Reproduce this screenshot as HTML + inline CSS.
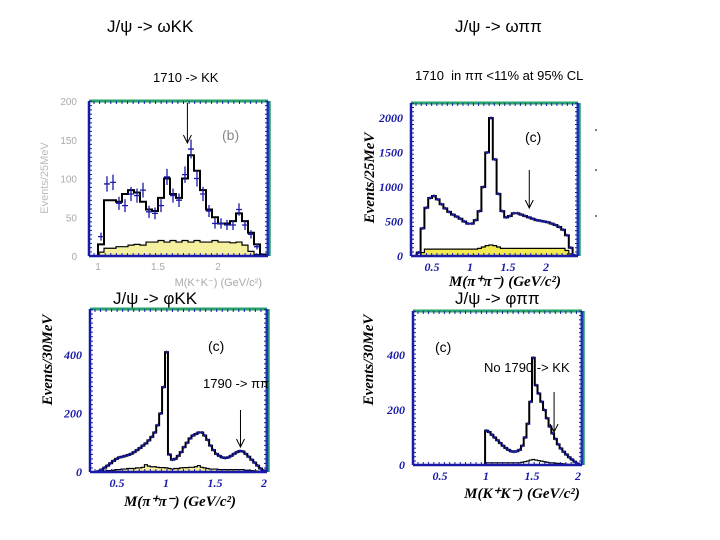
<!DOCTYPE html>
<html><head><meta charset="utf-8">
<style>
body{margin:0;background:#fff;}
#wrap{position:relative;width:720px;height:540px;overflow:hidden;background:#fff;font-family:"Liberation Sans",sans-serif;}
.t{position:absolute;color:#000;white-space:nowrap;}
</style></head>
<body>
<div id="wrap">
<div class="t" style="left:107px;top:17px;font-size:17px">J/ψ -&gt; ωKK</div>
<div class="t" style="left:455px;top:17px;font-size:17px">J/ψ -&gt; ωππ</div>
<div class="t" style="left:153px;top:70px;font-size:13px">1710 -&gt; KK</div>
<div class="t" style="left:415px;top:68px;font-size:13px">1710&nbsp; in ππ &lt;11% at 95% CL</div>
<svg id="svg" width="720" height="540" style="position:absolute;left:0;top:0"></svg>
</div>
<script>
// ---- Panel 1 data: J/psi -> omega KK, M(K+K-), 50 MeV steps from 1.0
const p1Start = 1.0, p1Step = 0.05;
const p1Fit = [15,72,72,70,80,85,82,70,60,58,75,100,80,75,100,130,110,85,60,50,42,42,45,55,45,30,15,2];
const p1Data = [25,93,95,68,65,80,78,85,57,55,65,102,78,72,105,138,100,80,58,42,42,40,40,60,40,28,12];
const p1Bg = [5,10,10,12,12,14,15,14,18,18,20,18,20,18,20,18,20,18,18,20,18,18,17,18,14,6,2,0];
// ---- Panel 2 data: J/psi -> omega pi pi, M(pi+pi-)
const p2Start = 0.3, p2Step = 0.05;
const p2Fit = [50,400,700,840,870,820,750,690,640,600,570,540,500,470,470,520,650,1000,1500,2000,1400,900,650,560,580,620,620,600,580,560,540,520,510,500,490,470,450,420,380,300,120,10];
const p2Bg = [0,50,100,100,100,100,100,100,100,100,100,100,100,100,100,100,110,130,150,160,150,130,110,110,110,110,110,110,110,110,110,110,110,110,110,110,110,110,110,80,30,0];
// ---- Panel 3 data: J/psi -> phi KK, M(pi+pi-)
const p3Start = 0.3, p3Step = 0.03;
const p3Fit = [3,8,15,22,30,38,45,50,52,55,58,62,68,75,82,90,98,108,120,135,160,200,290,410,60,42,45,55,68,85,100,115,125,130,135,135,125,110,90,75,62,55,50,48,50,55,62,68,72,70,62,52,42,32,22,12,5];
const p3Bg = [0,2,3,5,5,6,8,8,10,10,12,12,12,14,14,16,25,20,18,18,16,15,15,14,12,10,12,12,14,15,15,16,16,18,22,16,14,12,10,10,10,8,8,8,8,8,8,8,8,8,6,6,5,4,3,2,1];
// ---- Panel 4 data: J/psi -> phi pi pi, M(K+K-)
const p4Start = 0.99, p4Step = 0.03;
const p4Fit = [125,120,110,100,90,80,70,62,55,50,48,50,55,70,100,150,230,390,290,260,230,200,170,140,115,95,75,60,48,38,28,20,12,5];
const p4Bg = [8,8,8,8,8,8,8,8,8,8,8,8,8,10,12,14,18,20,18,16,14,12,10,8,8,6,6,5,4,3,2,2,1,0];

const NS='http://www.w3.org/2000/svg';
const svg=document.getElementById('svg');
function mk(tag,attrs,parent){const e=document.createElementNS(NS,tag);for(const k in attrs)e.setAttribute(k,attrs[k]);(parent||svg).appendChild(e);return e;}

function panel(cfg){
  const g=mk('g',{});
  
  
  const X=v=>cfg.px0+(v-cfg.x0)*cfg.pxPerX;
  const Y=v=>cfg.py0-(v)*cfg.pyPer;
  if(cfg.bg){
    let d='M'+X(cfg.start)+','+Y(0);
    cfg.bg.forEach((v,i)=>{const a=X(cfg.start+i*cfg.step),b=X(cfg.start+(i+1)*cfg.step);d+=' L'+a+','+Y(v)+' L'+b+','+Y(v);});
    d+=' L'+X(cfg.start+cfg.bg.length*cfg.step)+','+Y(0)+' Z';
    const bgp=mk('path',{d:d,fill:cfg.bgFill||'none',stroke:'#000','stroke-width':1.2},g);
    
    
  }
  let d='M'+X(cfg.start)+','+Y(0);
  cfg.fit.forEach((v,i)=>{const a=X(cfg.start+i*cfg.step),b=X(cfg.start+(i+1)*cfg.step);d+=' L'+a+','+Y(v)+' L'+b+','+Y(v);});
  d+=' L'+X(cfg.start+cfg.fit.length*cfg.step)+','+Y(0);
  const fp=mk('path',{d:d,fill:'none',stroke:'#000','stroke-width':2},g);
  
  
  const pts=cfg.data||cfg.fit;
  const err=cfg.err||0;
  pts.forEach((v,i)=>{
    const cx=X(cfg.start+(i+0.5)*cfg.step), cy=Y(v);
    const e=err? Math.sqrt(Math.max(v,1))*err : 1.5;
    const ln=mk('path',{d:'M'+(cx-cfg.step*cfg.pxPerX/2)+','+cy+' H'+(cx+cfg.step*cfg.pxPerX/2)+' M'+cx+','+(cy-e)+' V'+(cy+e),stroke:'#1a1aa8','stroke-width':1.3,fill:'none'},g);
    
    
  });
  const L=cfg.L,T=cfg.T,R=cfg.R,B=cfg.B;
  mk('line',{x1:L,y1:T,x2:R,y2:T,stroke:'#2aa36a','stroke-width':3},g);
  mk('line',{x1:R,y1:T,x2:R,y2:B,stroke:'#1a3ab0','stroke-width':3},g);
  mk('line',{x1:R+2,y1:T,x2:R+2,y2:B,stroke:'#2aa36a','stroke-width':1.5},g);
  mk('line',{x1:L,y1:T,x2:L,y2:B,stroke:'#1a1aa8','stroke-width':2.5},g);
  mk('line',{x1:L,y1:B,x2:R,y2:B,stroke:'#1a1aa8','stroke-width':2.5},g);
  for(let x=L+5;x<R;x+=(R-L)/32){mk('line',{x1:x,y1:B,x2:x,y2:B-3,stroke:'#1a1aa8'},g);mk('line',{x1:x,y1:T,x2:x,y2:T+3,stroke:'#1a1aa8'},g);}
  for(let y=B-4;y>T;y-=(B-T)/36){mk('line',{x1:L,y1:y,x2:L+3,y2:y,stroke:'#1a1aa8'},g);mk('line',{x1:R,y1:y,x2:R-3,y2:y,stroke:'#1a1aa8'},g);}
  cfg.yTicks.forEach(v=>{const t=mk('text',{x:L-(cfg.faint?12:8),y:Y(v)+4,'text-anchor':'end','font-size':cfg.faint?10:12,fill:cfg.faint?'#aaa':'#1a1aa8','font-family':cfg.faint?'Liberation Sans,sans-serif':'Liberation Serif,serif','font-weight':cfg.faint?'normal':'bold','font-style':cfg.faint?'normal':'italic'},g);t.textContent=v;
    
    });
  cfg.xTicks.forEach(v=>{const t=mk('text',{x:X(v),y:B+(cfg.faint?14:15),'text-anchor':'middle','font-size':cfg.faint?10:12,fill:cfg.faint?'#aaa':'#1a1aa8','font-family':cfg.faint?'Liberation Sans,sans-serif':'Liberation Serif,serif','font-weight':cfg.faint?'normal':'bold','font-style':cfg.faint?'normal':'italic'},g);t.textContent=cfg.xFmt?cfg.xFmt(v):v;
    
    });
  if(cfg.arrow){const a=cfg.arrow;const ax=X(a.x);
    mk('path',{d:'M'+ax+','+a.y1+' V'+a.y2+' M'+(ax-4)+','+(a.y2-8)+' L'+ax+','+a.y2+' L'+(ax+4)+','+(a.y2-8),stroke:'#000','stroke-width':1,fill:'none'},g);}
  const lc=mk('text',{x:cfg.lab[0],y:cfg.lab[1],'font-size':14,fill:cfg.faint?'#888':'#000','font-family':'Liberation Sans,sans-serif'},g);lc.textContent=cfg.labText||'(c)';
  
  
  return g;
}

panel({name:'panel-omega-kk',start:p1Start,step:p1Step,fit:p1Fit,data:p1Data,bg:p1Bg,bgFill:'#f4f0a0',err:0.8,
  x0:1,px0:98,pxPerX:120,py0:256,pyPer:155/200,L:89,T:101,R:268,B:256,faint:true,
  yTicks:[0,50,100,150,200],xTicks:[1,1.5,2],xFmt:v=>v==1.5?'1.5':v,
  arrow:{x:1.745,y1:103,y2:143},lab:[222,140],labText:'(b)'});
panel({name:'panel-omega-pipi',start:p2Start,step:p2Step,fit:p2Fit,bg:p2Bg,bgFill:'#f2ea50',
  x0:0.5,px0:432,pxPerX:76,py0:256,pyPer:34.5/500,L:411,T:103,R:578,B:256,
  yTicks:[0,500,1000,1500,2000],xTicks:[0.5,1,1.5,2],
  arrow:{x:1.78,y1:170,y2:208},lab:[525,142]});
panel({name:'panel-phi-kk',start:p3Start,step:p3Step,fit:p3Fit,bg:p3Bg,bgFill:'#f4f0a0',
  x0:0.5,px0:117,pxPerX:98,py0:472,pyPer:58.5/200,L:90,T:309,R:267,B:472,
  yTicks:[0,200,400],xTicks:[0.5,1,1.5,2],
  arrow:{x:1.76,y1:410,y2:447},lab:[208,351]});
panel({name:'panel-phi-pipi',start:p4Start,step:p4Step,fit:p4Fit,bg:p4Bg,bgFill:'none',
  x0:0.5,px0:440,pxPerX:92,py0:465,pyPer:55/200,L:413,T:311,R:582,B:465,
  yTicks:[0,200,400],xTicks:[0.5,1,1.5,2],
  arrow:{x:1.74,y1:392,y2:432},lab:[435,352]});

function txt(s,attrs,name){const t=mk('text',attrs);t.textContent=s;return t;}
txt('Events/25MeV',{x:0,y:0,transform:'translate(48,178) rotate(-90)','text-anchor':'middle','font-size':11,fill:'#bbb','font-family':'Liberation Sans,sans-serif'},'y-axis-title-omega-kk');
txt('M(K⁺K⁻) (GeV/c²)',{x:262,y:286,'text-anchor':'end','font-size':11,fill:'#aaa','font-family':'Liberation Sans,sans-serif'},'x-axis-title-omega-kk');
txt('Events/25MeV',{x:0,y:0,transform:'translate(374,178) rotate(-90)','text-anchor':'middle','font-size':15,'font-weight':'bold','font-style':'italic','font-family':'Liberation Serif,serif'},'y-axis-title-omega-pipi');
txt('M(π⁺π⁻) (GeV/c²)',{x:505,y:286,'text-anchor':'middle','font-size':15,'font-weight':'bold','font-style':'italic','font-family':'Liberation Serif,serif'},'x-axis-title-omega-pipi');
txt('Events/30MeV',{x:0,y:0,transform:'translate(52,360) rotate(-90)','text-anchor':'middle','font-size':15,'font-weight':'bold','font-style':'italic','font-family':'Liberation Serif,serif'},'y-axis-title-phi-kk');
txt('M(π⁺π⁻) (GeV/c²)',{x:180,y:506,'text-anchor':'middle','font-size':15,'font-weight':'bold','font-style':'italic','font-family':'Liberation Serif,serif'},'x-axis-title-phi-kk');
txt('Events/30MeV',{x:0,y:0,transform:'translate(373,360) rotate(-90)','text-anchor':'middle','font-size':15,'font-weight':'bold','font-style':'italic','font-family':'Liberation Serif,serif'},'y-axis-title-phi-pipi');
txt('M(K⁺K⁻) (GeV/c²)',{x:522,y:498,'text-anchor':'middle','font-size':15,'font-weight':'bold','font-style':'italic','font-family':'Liberation Serif,serif'},'x-axis-title-phi-pipi');
txt('J/ψ -> φKK',{x:113,y:304,'font-size':17,'font-family':'Liberation Sans,sans-serif'},'title-phi-kk');
txt('J/ψ -> φππ',{x:455,y:304,'font-size':17,'font-family':'Liberation Sans,sans-serif'},'title-phi-pipi');
txt('1790 -> ππ',{x:203,y:388,'font-size':13,'font-family':'Liberation Sans,sans-serif'},'note-1790-pipi');
txt('No 1790 -> KK',{x:484,y:372,'font-size':13,'font-family':'Liberation Sans,sans-serif'},'note-no-1790-kk');
[130,170,216].forEach(y=>mk('line',{x1:595,y1:y,x2:597,y2:y,stroke:'#000'}));
</script>
</body></html>
